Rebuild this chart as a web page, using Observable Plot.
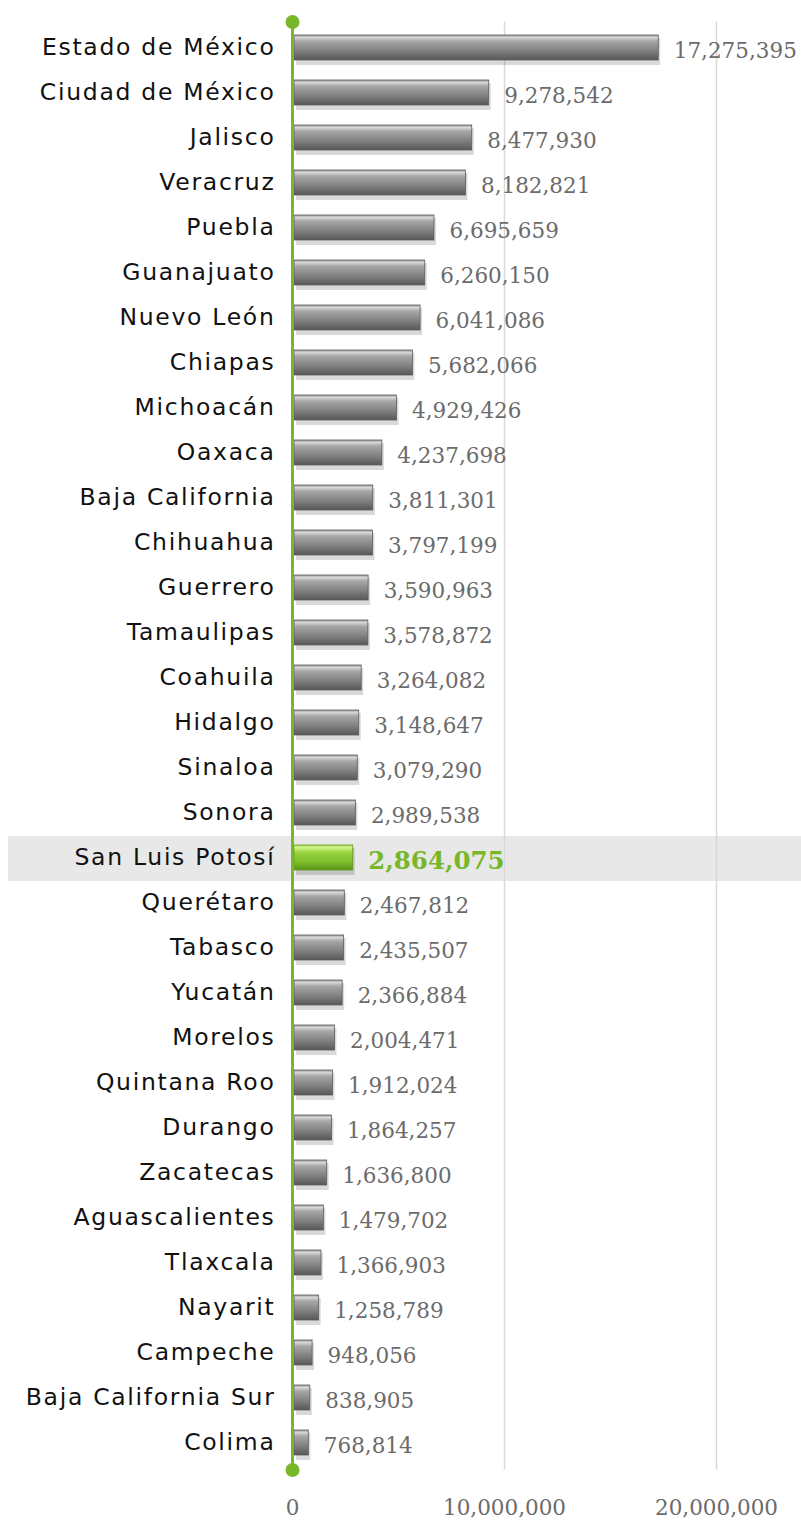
<!DOCTYPE html>
<html>
<head>
<meta charset="utf-8">
<script src="https://cdn.jsdelivr.net/npm/d3@7"></script>
<script src="https://cdn.jsdelivr.net/npm/@observablehq/plot@0.6"></script>
<style>
  html, body { margin: 0; padding: 0; background: #fff; }
  #chart svg { display: block; }
</style>
</head>
<body>
<div id="chart"></div>
<script>
const states = [
  "Estado de México", "Ciudad de México", "Jalisco", "Veracruz", "Puebla",
  "Guanajuato", "Nuevo León", "Chiapas", "Michoacán", "Oaxaca",
  "Baja California", "Chihuahua", "Guerrero", "Tamaulipas", "Coahuila",
  "Hidalgo", "Sinaloa", "Sonora", "San Luis Potosí", "Querétaro",
  "Tabasco", "Yucatán", "Morelos", "Quintana Roo", "Durango",
  "Zacatecas", "Aguascalientes", "Tlaxcala", "Nayarit", "Campeche",
  "Baja California Sur", "Colima"
];
const population = [
  17275395, 9278542, 8477930, 8182821, 6695659,
  6260150, 6041086, 5682066, 4929426, 4237698,
  3811301, 3797199, 3590963, 3578872, 3264082,
  3148647, 3079290, 2989538, 2864075, 2467812,
  2435507, 2366884, 2004471, 1912024, 1864257,
  1636800, 1479702, 1366903, 1258789, 948056,
  838905, 768814
];
const xTicks = [0, 10000000, 20000000];
const highlight = "San Luis Potosí";

const data = states.map((s, i) => ({state: s, value: population[i]}));
const others = data.filter(d => d.state !== highlight);
const hl = data.filter(d => d.state === highlight);

const green = "#76b82a";
const fmt = d3.format(",");
const sans = "'DejaVu Sans', sans-serif";
const serif = "'DejaVu Serif', serif";

const bandMark = (index, scales, values, dims) => {
  const g = d3.create("svg:g");
  const y0 = scales.y(highlight);
  g.append("rect")
    .attr("x", 8).attr("y", y0)
    .attr("width", dims.width - 8).attr("height", scales.y.bandwidth())
    .attr("fill", "#e8e8e8");
  return g.node();
};

const svg = Plot.plot({
  width: 801,
  height: 1520,
  marginLeft: 292,
  marginRight: 85,
  marginTop: 21.5,
  marginBottom: 50.5,
  x: {domain: [0, 20000000], axis: null},
  y: {domain: states, padding: 0, axis: null},
  marks: [
    bandMark,
    Plot.gridX(xTicks.slice(1), {stroke: "#d9d9d9", strokeOpacity: 1, strokeWidth: 1.5}),
    Plot.barX(data, {y: "state", x: "value", insetTop: 9, insetBottom: 9, insetLeft: 2,
      fill: "#000", fillOpacity: 0.15, dx: 2, dy: 3}),
    Plot.barX(others, {y: "state", x: "value", insetTop: 9, insetBottom: 11, insetLeft: 2,
      fill: "url(#gGray)", stroke: "#5c5c5c", strokeWidth: 0.8}),
    Plot.barX(hl, {y: "state", x: "value", insetTop: 9, insetBottom: 11, insetLeft: 2,
      fill: "url(#gGreen)", stroke: "#5f9a1a", strokeWidth: 0.8}),
    Plot.ruleX([0], {stroke: green, strokeWidth: 3}),
    Plot.dot([0], {x: d => d, frameAnchor: "top", r: 7, fill: green}),
    Plot.dot([0], {x: d => d, frameAnchor: "bottom", r: 7, fill: green}),
    Plot.axisY({tickSize: 0, tickPadding: 17, fontSize: 23.5, fontFamily: sans, fill: "#111", label: null, dy: -2}),
    Plot.text(others, {y: "state", x: "value", text: d => fmt(d.value), dx: 15, dy: 2,
      textAnchor: "start", fontSize: 21.5, fontFamily: serif, fill: "#6b6b6b"}),
    Plot.text(hl, {y: "state", x: "value", text: d => fmt(d.value), dx: 15, dy: 2,
      textAnchor: "start", fontSize: 24.5, fontWeight: "bold", fontFamily: serif, fill: green}),
    Plot.axisX(xTicks, {tickSize: 0, tickPadding: 30, tickFormat: fmt, fontSize: 21.5,
      fontFamily: serif, fill: "#6b6b6b", label: null})
  ]
});

d3.select(svg).selectAll('g[aria-label="y-axis tick label"]').style("letter-spacing", "1.7px");

const defs = d3.select(svg).insert("defs", ":first-child");
const gg = defs.append("linearGradient").attr("id", "gGray").attr("x1", 0).attr("y1", 0).attr("x2", 0).attr("y2", 1);
[[0, "#9a9a9a"], [0.1, "#d6d6d6"], [0.25, "#a6a6a6"], [0.6, "#848484"], [1, "#575757"]]
  .forEach(([o, c]) => gg.append("stop").attr("offset", o).attr("stop-color", c));
const gr = defs.append("linearGradient").attr("id", "gGreen").attr("x1", 0).attr("y1", 0).attr("x2", 0).attr("y2", 1);
[[0, "#a9dc5a"], [0.1, "#d2f58e"], [0.3, "#98d23f"], [0.65, "#80c02c"], [1, "#5a9418"]]
  .forEach(([o, c]) => gr.append("stop").attr("offset", o).attr("stop-color", c));

document.getElementById("chart").appendChild(svg);
</script>
</body>
</html>
